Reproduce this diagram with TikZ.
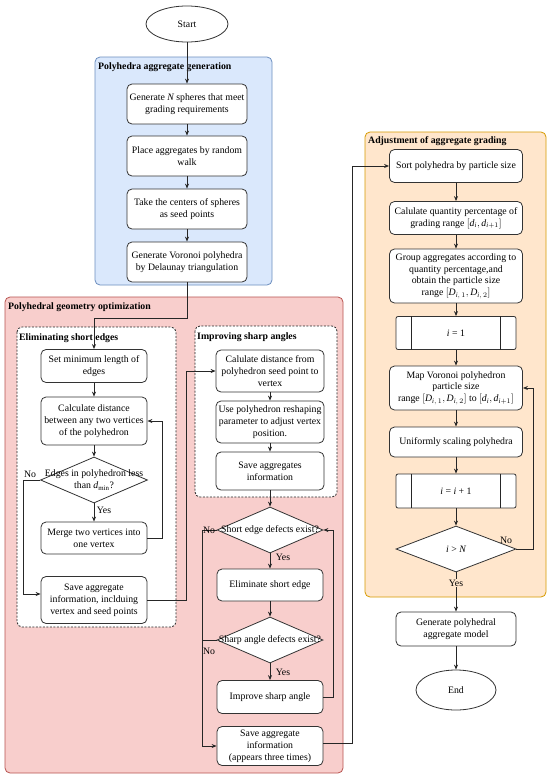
\documentclass[tikz,border=0pt]{standalone}
\usepackage{fontspec}
\setmainfont{Liberation Serif}
\usetikzlibrary{arrows.meta,shapes.geometric}

\definecolor{genfill}{HTML}{DAE8FC}
\definecolor{gendraw}{HTML}{6C8EBF}
\definecolor{optfill}{HTML}{F8CECC}
\definecolor{optdraw}{HTML}{B85450}
\definecolor{gradfill}{HTML}{FFE6CC}
\definecolor{graddraw}{HTML}{D79B00}
\newcommand{\itv}[1]{\mathit{#1}}

\begin{document}
\begin{tikzpicture}[x=1pt,y=-1pt,>={Stealth[length=5pt,width=4pt]},
    every node/.style={font=\fontsize{9.8}{11.8}\selectfont},
    title/.style={anchor=west,inner sep=1pt,font=\bfseries\fontsize{9.8}{11.8}\selectfont},
    stepbox/.style={draw=black!80,fill=white,rounded corners=5pt,line width=0.8pt,align=center,inner sep=1pt,minimum width=106pt,minimum height=33pt},
    loopbox/.style={draw=black!80,fill=white,rounded corners=2pt,line width=0.8pt,align=center,minimum width=120pt,minimum height=33pt},
    terminal/.style={draw=black!80,fill=white,ellipse,line width=0.8pt,inner sep=0pt,minimum width=80pt,minimum height=40pt},
    decision/.style={draw=black!80,fill=white,diamond,line width=0.8pt,inner sep=0pt,minimum width=106pt,minimum height=46pt},
    note/.style={inner sep=0.5pt},
    area/.style={rounded corners=5pt,line width=0.8pt},
    subarea/.style={draw=black!85,fill=white,dash pattern=on 2pt off 1.5pt,rounded corners=5pt,line width=0.8pt},
    flow/.style={draw=black!85,line width=0.8pt}]
    \path[fill=white] (0,0) rectangle (550,779);
    \useasboundingbox (0,0) rectangle (550,779);

    % the three stages and the two sub-loops
    \draw[area,draw=gendraw,fill=genfill] (95,57) rectangle (272,285);
    \draw[area,draw=optdraw,fill=optfill] (5,297) rectangle (343,773);
    \draw[area,draw=graddraw,fill=gradfill] (365,132) rectangle (546,597);
    \draw[subarea] (17,327) rectangle (176,627);
    \draw[subarea] (195,326) rectangle (337,497);
    \node (tgen) [title] at (97,67) {Polyhedra aggregate generation};
    \node (topt) [title] at (7,307) {Polyhedral geometry optimization};
    \node (tshort) [title] at (18,338) {Eliminating short edges};
    \node (tsharp) [title] at (196,337) {Improving sharp angles};
    \node (tgrad) [title] at (367,141) {Adjustment of aggregate grading};

    % generation
    \node (start) [terminal,minimum width=82pt,minimum height=36pt] at (187,24) {Start};
    \node (gen1) [stepbox,minimum width=120pt,minimum height=40pt] at (187,104) {Generate $\itv{N}$ spheres that meet\\grading requirements};
    \node (gen2) [stepbox,minimum width=120pt,minimum height=40pt] at (187,156) {Place aggregates by random\\walk};
    \node (gen3) [stepbox,minimum width=120pt,minimum height=40pt] at (187,209) {Take the centers of  spheres\\as seed points};
    \node (gen4) [stepbox,minimum width=120pt,minimum height=40pt] at (187,262) {Generate Voronoi polyhedra\\by Delaunay triangulation};

    % short edges
    \node (setmin) [stepbox] at (94,366) {Set minimum length of\\edges};
    \node (calc) [stepbox,minimum height=48pt] at (94,421) {Calculate distance\\between any two vertices\\of the polyhedron};
    \node (d1) [decision,minimum width=107pt] at (94,480) {};
    \node (d1t) [align=center,inner sep=0pt] at (d1) {Edges in polyhedron less\\than $\itv{d}_{\mathrm{min}}$?};
    \node (merge) [stepbox,minimum height=32pt] at (94,538) {Merge two vertices into\\one vertex};
    \node (save1) [stepbox,minimum height=47pt] at (94,600) {Save aggregate\\information, inclduing\\vertex and seed points};

    % sharp angles
    \node (calc2) [stepbox,minimum width=108pt,minimum height=42pt] at (270,371) {Calulate distance from\\polyhedron seed point to\\vertex};
    \node (adjust) [stepbox,minimum width=108pt,minimum height=42pt] at (270,422) {Use polyhedron reshaping\\parameter to adjust vertex\\position.};
    \node (saveA) [stepbox,minimum width=108pt,minimum height=38pt] at (270,471) {Save aggregates\\information};

    % defect checks
    \node (d2) [decision] at (270,530) {};
    \node (d2t) [inner sep=0pt] at (d2) {Short edge defects exist?};
    \node (elim) [stepbox,minimum height=32pt] at (270,585) {Eliminate short edge};
    \node (d3) [decision] at (270,640) {};
    \node (d3t) [inner sep=0pt] at (d3) {Sharp angle defects exist?};
    \node (improve) [stepbox] at (270,697) {Improve sharp angle};
    \node (save3) [stepbox,minimum height=39pt] at (270,746) {Save aggregate\\information\\(appears three times)};

    % grading
    \node (sort) [stepbox,minimum width=133pt] at (456,166) {Sort polyhedra by particle size};
    \node (calcq) [stepbox,minimum width=133pt] at (456,218) {Calulate quantity percentage of\\grading range $[\itv{d}_{\itv{i}}, \itv{d}_{\itv{i}+1}]$};
    \node (group) [stepbox,minimum width=133pt,minimum height=54pt] at (456,276) {Group aggregates according to\\quantity percentage,and\\obtain the particle size\\range $[\itv{D}_{\itv{i},\,1}, \itv{D}_{\itv{i},\,2}]$};
    \node (i1) [loopbox] at (456,333) {$\itv{i}$ = 1};
    \node (map) [stepbox,minimum width=133pt,minimum height=44pt] at (456,388) {Map Voronoi polyhedron\\particle size\\range $[\itv{D}_{\itv{i},\,1}, \itv{D}_{\itv{i},\,2}]$ to $[\itv{d}_{\itv{i}}, \itv{d}_{\itv{i}+1}]$};
    \node (scale) [stepbox,minimum width=133pt,minimum height=30pt] at (456,442) {Uniformly scaling polyhedra};
    \node (inc) [loopbox,minimum height=34pt] at (456,491) {$\itv{i}$ = $\itv{i}$ + 1};
    \node (d4) [decision,minimum width=120pt] at (456,549) {};
    \node (d4t) [inner sep=0pt] at (d4) {$\itv{i}$ > $\itv{N}$};
    \node (model) [stepbox,minimum width=120pt,minimum height=34pt] at (456,629) {Generate polyhedral\\aggregate model};
    \node (end) [terminal] at (456,690) {End};
    \foreach \p in {i1,inc} {
        \draw[flow] ([xshift=16pt]\p.north west) -- ([xshift=16pt]\p.south west);
        \draw[flow] ([xshift=-16pt]\p.north east) -- ([xshift=-16pt]\p.south east);
    }

    % connectors
    \foreach \a/\b in {start/gen1,gen1/gen2,gen2/gen3,gen3/gen4,setmin/calc,calc/d1,d1/merge,
        calc2/adjust,adjust/saveA,saveA/d2,d2/elim,elim/d3,d3/improve,
        sort/calcq,calcq/group,group/i1,i1/map,map/scale,scale/inc,inc/d4,d4/model,model/end}
        \draw[flow,->] (\a) -- (\b);
    \coordinate (j1) at (187,318);
    \draw[flow,->] (gen4) -- (j1) -| (setmin);
    \draw[flow,->] (merge.east) -- ++(15,0) |- (calc.east);
    \draw[flow,->] (d1.west) -- ++(-17,0) |- ([yshift=6pt]save1.west);
    \draw[flow,->] (save1.east) -- ++(39,0) |- (calc2.west);
    \draw[flow,->] (improve.east) -- ++(10,0) |- (d2.east);
    \draw[flow,->] (d2.west) -- ++(-14,0) |- (save3.west);
    \draw[flow] (d3.west) -- ++(-14,0);
    \draw[flow,->] ([yshift=3pt]save3.east) -- ++(29,0) |- (sort.west);
    \draw[flow,->] (d4.east) -- ++(17,0) |- (map.east);

    % branch labels
    \node (no1) [note] at (30,474) {No};
    \node (yes1) [note] at (104,510) {Yes};
    \node (no2) [note] at (209,530) {No};
    \node (yes2) [note] at (283,557) {Yes};
    \node (no3) [note] at (209,651) {No};
    \node (yes3) [note] at (283,672) {Yes};
    \node (no4) [note] at (506,540) {No};
    \node (yes4) [note,fill=gradfill] at (456,583) {Yes};
\end{tikzpicture}
\end{document}
